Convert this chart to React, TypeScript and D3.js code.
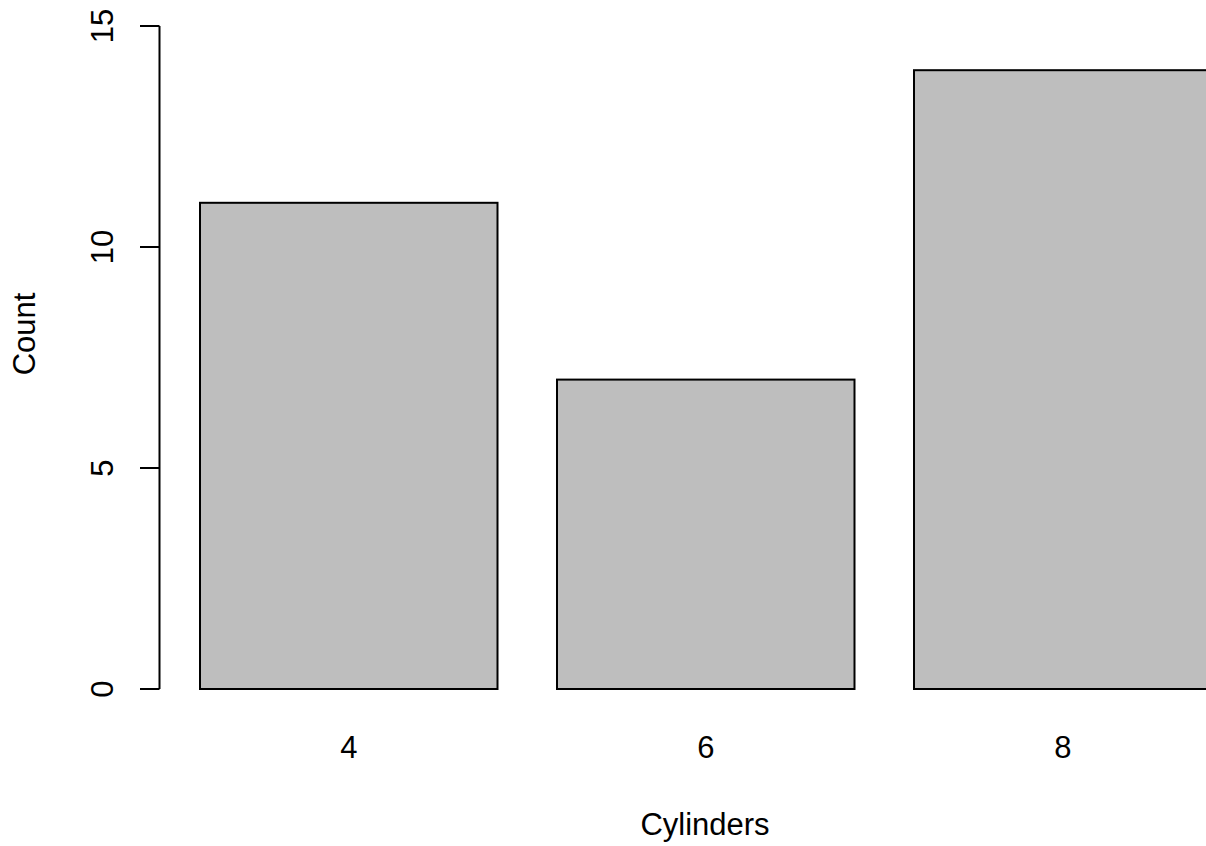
import React from "react";
import * as d3 from "d3";

// data
const cylinders = ["4", "6", "8"];
const counts = [11, 7, 14];
const yTicks = [0, 5, 10, 15];

const chartConfig = {
  width: 1206,
  height: 846,
  font: "'Liberation Sans', Arial, Helvetica, sans-serif",
  fontSize: 31,
};

const App = () => {
  const { width, height, font, fontSize } = chartConfig;

  // R barplot layout: bar width 1, space 0.2
  const x = d3
    .scaleBand()
    .domain(cylinders)
    .range([200, 1211.5])
    .paddingInner(1 / 6)
    .paddingOuter(0);

  const y = d3.scaleLinear().domain([0, 15]).range([689, 26]);

  const axisX = 159.5;

  return (
    <div style={{ position: "absolute", left: 0, top: 0 }}>
      <svg width={width} height={height} style={{ display: "block", background: "#fff" }}>
        <g fontFamily={font} fontSize={fontSize} fill="#000">
          {cylinders.map((c, i) => (
            <rect
              key={c}
              x={x(c)}
              y={y(counts[i])}
              width={x.bandwidth()}
              height={y(0) - y(counts[i])}
              fill="#bebebe"
              stroke="#000"
              strokeWidth={2}
            />
          ))}

          {/* y axis */}
          <line
            x1={axisX}
            x2={axisX}
            y1={y(yTicks[0])}
            y2={y(yTicks[yTicks.length - 1])}
            stroke="#000"
            strokeWidth={2}
          />
          {yTicks.map((t) => (
            <g key={t}>
              <line x1={140} x2={axisX} y1={y(t)} y2={y(t)} stroke="#000" strokeWidth={2} />
              <text
                transform={`translate(113,${y(t)}) rotate(-90)`}
                textAnchor="middle"
              >
                {t}
              </text>
            </g>
          ))}

          {/* category labels */}
          {cylinders.map((c) => (
            <text key={c} x={x(c)! + x.bandwidth() / 2} y={758} textAnchor="middle">
              {c}
            </text>
          ))}

          <text x={705} y={835} textAnchor="middle">
            Cylinders
          </text>
          <text transform="translate(35,334) rotate(-90)" textAnchor="middle">
            Count
          </text>
        </g>
      </svg>
    </div>
  );
};

export default App;
